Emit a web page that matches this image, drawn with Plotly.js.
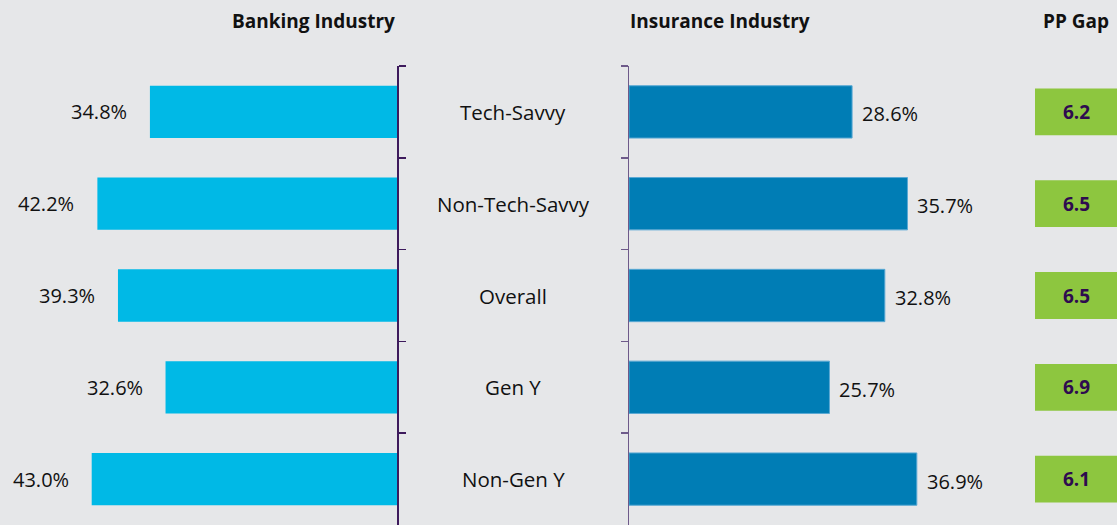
<!DOCTYPE html>
<html>
<head>
<meta charset="utf-8">
<script src="https://cdn.plot.ly/plotly-3.0.1.min.js"></script>
<style>html,body{margin:0;padding:0;background:#e6e7e9;}#chart{width:1117px;height:525px;}</style>
</head>
<body>
<div id="chart"></div>
<script>
const categories = ["Tech-Savvy", "Non-Tech-Savvy", "Overall", "Gen Y", "Non-Gen Y"];
const banking = [34.8, 42.2, 39.3, 32.6, 43.0];
const insurance = [28.6, 35.7, 32.8, 25.7, 36.9];
const ppGap = [6.2, 6.5, 6.5, 6.9, 6.1];
const titles = ["Banking Industry", "Insurance Industry", "PP Gap"];

const FONT = "Open Sans, Noto Sans, DejaVu Sans, sans-serif";
const idx = categories.map((c, i) => i);
const boundaries = idx.map(i => i - 0.5);

const traces = [
  {type: "bar", orientation: "h", y: idx, x: banking, xaxis: "x", yaxis: "y",
   marker: {color: "#00b9e6"}, width: 0.57, hoverinfo: "x"},
  {type: "bar", orientation: "h", y: idx, x: insurance, xaxis: "x2", yaxis: "y2",
   marker: {color: "#007db5", line: {color: "#5aa9d4", width: 1}}, width: 0.57, hoverinfo: "x"}
];

const annotations = [];
const shapes = [];
idx.forEach(i => {
  annotations.push({xref: "x", yref: "y", x: banking[i], y: i, text: banking[i].toFixed(1) + "%",
    showarrow: false, xanchor: "right", xshift: -21, font: {family: FONT, size: 20, color: "#111"}});
  annotations.push({xref: "x2", yref: "y2", x: insurance[i], y: i, text: insurance[i].toFixed(1) + "%",
    showarrow: false, xanchor: "left", xshift: 8, yshift: -2, font: {family: FONT, size: 20, color: "#111"}});
  annotations.push({xref: "paper", yref: "y", x: 0.4593, y: i, text: categories[i],
    showarrow: false, xanchor: "center", font: {family: FONT, size: 20.5, color: "#111"}});
  shapes.push({type: "rect", xref: "paper", yref: "y", x0: 1035 / 1117, x1: 1, y0: i - 0.255, y1: i + 0.255,
    fillcolor: "#8dc63f", line: {width: 0}, layer: "below"});
  annotations.push({xref: "paper", yref: "y", x: 1076 / 1117, y: i, text: "<b>" + ppGap[i].toFixed(1) + "</b>",
    showarrow: false, xanchor: "center", font: {family: FONT, size: 19, color: "#2e0b4f"}});
});

const titleFont = {family: FONT, size: 19, color: "#111", weight: 600};
annotations.push({xref: "paper", yref: "paper", x: 397 / 1117, y: 1, yanchor: "bottom", yshift: 30,
  xanchor: "right", text: "<b>" + titles[0] + "</b>", showarrow: false, font: titleFont});
annotations.push({xref: "paper", yref: "paper", x: 628 / 1117, y: 1, yanchor: "bottom", yshift: 30,
  xanchor: "left", text: "<b>" + titles[1] + "</b>", showarrow: false, font: titleFont});
annotations.push({xref: "paper", yref: "paper", x: 1076 / 1117, y: 1, yanchor: "bottom", yshift: 30,
  xanchor: "center", text: "<b>" + titles[2] + "</b>", showarrow: false, font: titleFont});

const leftEdge = 397 / 1117, rightStart = 629 / 1117, rightEnd = 0.94;
const layout = {
  width: 1117, height: 525,
  margin: {l: 0, r: 0, t: 66, b: 0},
  paper_bgcolor: "#e6e7e9", plot_bgcolor: "#e6e7e9",
  showlegend: false,
  xaxis: {domain: [0, leftEdge], range: [397 / 7.1, 0], showgrid: false, zeroline: false,
          showticklabels: false, ticks: "", showline: false, fixedrange: true},
  xaxis2: {domain: [rightStart, rightEnd], range: [0, (rightEnd * 1117 - 629) / 7.8], showgrid: false,
           zeroline: false, showticklabels: false, ticks: "", showline: false, fixedrange: true},
  yaxis: {anchor: "x", side: "right", range: [4.5, -0.5], tickmode: "array", tickvals: boundaries,
          showticklabels: false, showgrid: false, zeroline: false, showline: true, linecolor: "#3d1a5c",
          linewidth: 1.5, ticks: "outside", ticklen: 7, tickcolor: "#3d1a5c", tickwidth: 1.5},
  yaxis2: {anchor: "x2", side: "left", range: [4.5, -0.5], tickmode: "array", tickvals: boundaries,
           showticklabels: false, showgrid: false, zeroline: false, showline: true, linecolor: "#6e5a8a",
           linewidth: 1.5, ticks: "outside", ticklen: 7, tickcolor: "#6e5a8a", tickwidth: 1.5},
  shapes: shapes,
  annotations: annotations
};

Plotly.newPlot("chart", traces, layout, {displayModeBar: false, staticPlot: true});
</script>
</body>
</html>
